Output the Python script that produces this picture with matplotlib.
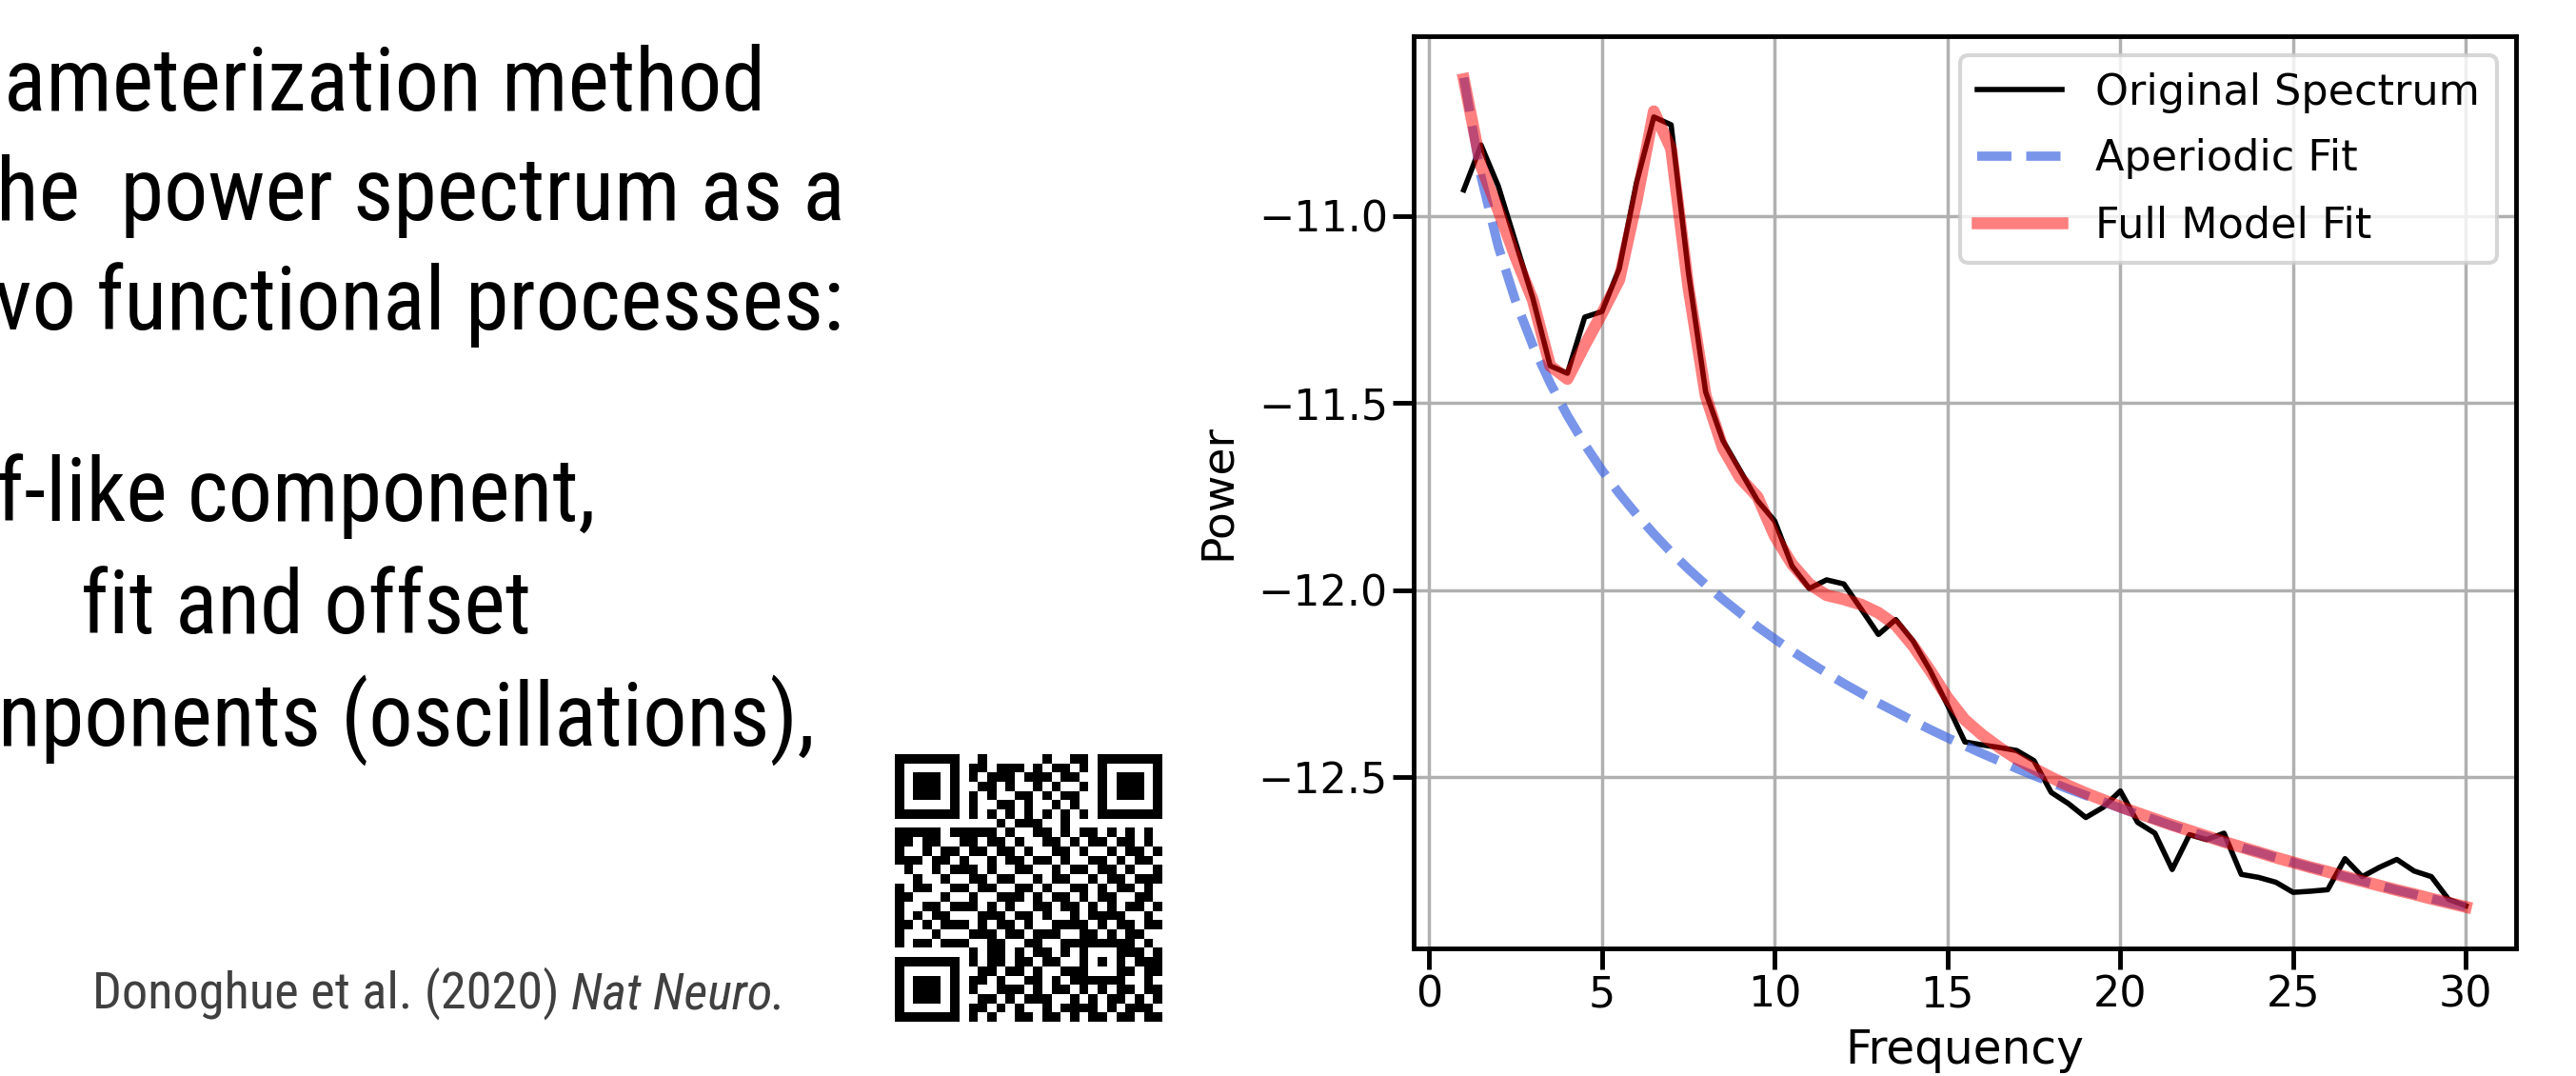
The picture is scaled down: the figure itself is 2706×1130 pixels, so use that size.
import matplotlib
matplotlib.use('Agg')
import matplotlib.pyplot as plt
from matplotlib import font_manager
from matplotlib.font_manager import FontProperties
import numpy as np

### Spectrum values (1-30 Hz, 0.5 Hz steps)
freqs = np.arange(1.0, 30.0 + 0.25, 0.5)

spectrum = [-10.93, -10.81, -10.92, -11.07, -11.22, -11.40, -11.42, -11.27,
            -11.255, -11.14, -10.91, -10.735, -10.756, -11.15, -11.47, -11.60,
            -11.68, -11.76, -11.815, -11.935, -11.995, -11.972, -11.983, -12.05,
            -12.118, -12.078, -12.135, -12.215, -12.307, -12.405, -12.413, -12.42,
            -12.428, -12.455, -12.54, -12.57, -12.607, -12.58, -12.536, -12.62,
            -12.649, -12.746, -12.653, -12.666, -12.649, -12.759, -12.767, -12.780,
            -12.807, -12.804, -12.80, -12.717, -12.765, -12.74, -12.719, -12.75,
            -12.765, -12.826, -12.843]

aperiodic = [-10.630, -10.894, -11.082, -11.227, -11.346, -11.446, -11.533, -11.610,
             -11.679, -11.741, -11.797, -11.849, -11.898, -11.943, -11.985, -12.024,
             -12.061, -12.097, -12.130, -12.162, -12.192, -12.221, -12.249, -12.275,
             -12.301, -12.325, -12.349, -12.372, -12.394, -12.415, -12.436, -12.456,
             -12.476, -12.495, -12.513, -12.531, -12.548, -12.565, -12.582, -12.598,
             -12.613, -12.629, -12.644, -12.658, -12.673, -12.687, -12.700, -12.714,
             -12.727, -12.740, -12.752, -12.765, -12.777, -12.789, -12.801, -12.812,
             -12.824, -12.835, -12.846]

fullmodel = [-10.634, -10.866, -10.985, -11.11, -11.225, -11.40, -11.435, -11.345,
             -11.26, -11.17, -10.96, -10.72, -10.82, -11.19, -11.48, -11.62,
             -11.70, -11.75, -11.855, -11.93, -11.983, -12.013, -12.024, -12.038,
             -12.06, -12.093, -12.148, -12.215, -12.287, -12.346, -12.386, -12.42,
             -12.45, -12.476, -12.50, -12.522, -12.542, -12.56, -12.578, -12.595,
             -12.611, -12.627, -12.642, -12.657, -12.672, -12.686, -12.700, -12.714,
             -12.727, -12.740, -12.752, -12.765, -12.777, -12.789, -12.801, -12.812,
             -12.824, -12.835, -12.846]

xticks = [0, 5, 10, 15, 20, 25, 30]
yticks = [-12.5, -12.0, -11.5, -11.0]
labels = ['Original Spectrum', 'Aperiodic Fit', 'Full Model Fit']

### Slide text (left part of the slide is cropped)
slidelines = ['ameterization method',
              'he  power spectrum as a',
              'vo functional processes:',
              'f-like component,',
              'fit and offset',
              'nponents (oscillations),']
citation_plain = 'Donoghue et al. (2020) '
citation_journal = 'Nat Neuro.'

### QR code modules (hand copied, 29 x 29)
qr_rows = [
    '1111111' '0' '0100000010011' '0' '1111111',
    '1000001' '0' '1101110101101' '0' '1000001',
    '1011101' '0' '1011101110110' '0' '1011101',
    '1011101' '0' '0110100101001' '0' '1011101',
    '1011101' '0' '1010011010110' '0' '1011101',
    '1000001' '0' '1001101001010' '0' '1000001',
    '1111111' '0' '1010101010101' '0' '1111111',
    '0000000' '0' '0001011100100' '0' '0000000',
    '11111011111010011010110101010',
    '110110' '0' '1101101001101011011010',
    '100101' '1' '0110110100110100101101',
    '111011' '0' '1001011011010011010110',
    '010010' '1' '1101001100101101101001',
    '001001' '0' '0110110010110010110111',
    '101100' '1' '1011001101001101011010',
    '110001' '0' '0100111010110101100110',
    '100110' '1' '1101010011011010101101',
    '101011' '0' '0011101101001011110010',
    '110101' '1' '1010110100111101011011',
    '100010' '0' '0111011011100110101100',
    '101101' '1' '1001100110011' '11111' '1010',
    '00000000' '1' '01101011010' '10001' '1101',
    '1111111' '0' '101101101100' '10101' '0111',
    '1000001' '0' '011011010011' '10001' '1011',
    '1011101' '0' '110100110101' '11111' '0010',
    '1011101' '0' '100111010110' '101011011',
    '1011101' '0' '011010111001' '010110101',
    '1000001' '0' '110101001011' '110101110',
    '1111111' '0' '101001101101' '011011011',
]
qr = np.array([[int(c) for c in row] for row in qr_rows])

###############################################################################
W, H = 2706, 1130
fig = plt.figure(figsize=(W/100, H/100), dpi=100)

### Look for a narrow / condensed sans font for the slide text
candidates = [('Liberation Sans Narrow', 'normal'), ('Roboto Condensed', 'normal'),
              ('Roboto', 'condensed'), ('Open Sans Condensed', 'normal'),
              ('Open Sans', 'condensed'), ('Noto Sans', 'condensed'),
              ('DejaVu Sans', 'condensed'), ('Liberation Sans', 'normal')]
slideprops = FontProperties(family='Liberation Sans')
italprops = FontProperties(family='Liberation Sans', style='italic')
for fam, stretch in candidates:
    try:
        path = font_manager.findfont(FontProperties(family=fam, stretch=stretch),
                                     fallback_to_default=False)
    except Exception:
        continue
    name = path.lower()
    if 'narrow' in name or 'condensed' in name or fam == 'Liberation Sans':
        slideprops = FontProperties(fname=path)
        try:
            ipath = font_manager.findfont(FontProperties(family=fam, stretch=stretch,
                                                         style='italic'),
                                          fallback_to_default=False)
            italprops = FontProperties(fname=ipath)
        except Exception:
            italprops = FontProperties(fname=path)
        break

### scale the slide text so the lines fill their widths in the reference
renderer = fig.canvas.get_renderer()
probe = fig.text(0, 0, slidelines[5], fontproperties=slideprops, fontsize=73)
w73 = probe.get_window_extent(renderer).width
probe.remove()
slidesize = 73*858/w73

line_x = [4, -4, -6, -4, 85, -2]
line_base = [116, 231, 346, 547, 665, 783]
for i, txt in enumerate(slidelines):
    fig.text(line_x[i]/W, 1 - line_base[i]/H, txt, fontproperties=slideprops,
             fontsize=slidesize, color='black', ha='left', va='baseline')

probe = fig.text(0, 0, citation_plain + citation_journal, fontproperties=slideprops, fontsize=42)
w42 = probe.get_window_extent(renderer).width
probe.remove()
citesize = 42*735/w42

t1 = fig.text(97/W, 1 - 1059/H, citation_plain, fontproperties=slideprops,
              fontsize=citesize, color='#404040', ha='left', va='baseline')
bb = t1.get_window_extent(renderer)
fig.text(bb.x1/W, 1 - 1059/H, citation_journal, fontproperties=italprops,
         fontsize=citesize, color='#404040', ha='left', va='baseline')

### QR code
axq = fig.add_axes([940/W, (H-1073)/H, 281/W, 281/H])
axq.imshow(qr, cmap='binary', interpolation='nearest', vmin=0, vmax=1)
axq.axis('off')

### Power spectrum plot
ax = fig.add_axes([1485/W, (H-996)/H, (2643-1485)/W, (996-38)/H])
ax.plot(freqs, spectrum, color='black', lw=4, label=labels[0])
ax.plot(freqs, aperiodic, color='royalblue', alpha=0.7, ls='--', lw=7, label=labels[1])
ax.plot(freqs, fullmodel, color='red', alpha=0.5, lw=9, label=labels[2])

ax.set_xticks(xticks)
ax.set_yticks(yticks)
ax.grid(True, color='#b0b0b0', lw=2.5)
ax.set_axisbelow(True)
for sp in ax.spines.values():
    sp.set_linewidth(3.5)
ax.tick_params(axis='both', labelsize=32, length=16, width=3.5)
ax.set_xlabel('Frequency', fontsize=35, labelpad=9)
ax.set_ylabel('Power', fontsize=34, labelpad=14)

leg = ax.legend(loc='upper right', fontsize=32, framealpha=0.8, fancybox=True,
                edgecolor='#cccccc', borderaxespad=0.45, labelspacing=0.6)
leg.get_frame().set_linewidth(3)

plt.savefig('out.png', dpi=100)
